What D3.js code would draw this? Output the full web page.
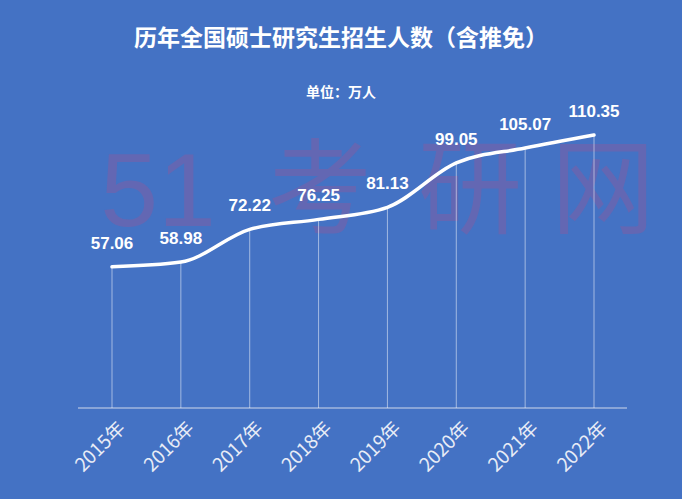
<!DOCTYPE html>
<html><head><meta charset="utf-8">
<script src="https://cdn.jsdelivr.net/npm/d3@7"></script>
<style>body{margin:0;background:#4472c4;}svg{display:block;font-family:"Noto Sans CJK SC","Noto Sans",sans-serif;}</style>
</head><body><svg width="682" height="499"></svg>
<script>
const years = ["2015年","2016年","2017年","2018年","2019年","2020年","2021年","2022年"];
const values = [57.06,58.98,72.22,76.25,81.13,99.05,105.07,110.35];
const watermark = ["51","考","研","网"];
const svg = d3.select("svg");
svg.append("rect").attr("width",682).attr("height",499).attr("fill","#4472c4");
svg.append("text").attr("x",341).attr("y",46).attr("text-anchor","middle").attr("fill","#fff")
  .attr("font-size",23).attr("font-weight","bold").text("历年全国硕士研究生招生人数（含推免）");
svg.append("text").attr("x",341).attr("y",97).attr("text-anchor","middle").attr("fill","#fff")
  .attr("font-size",14).attr("font-weight","bold").text("单位：万人");
const wx = [158,320,470,603];
watermark.forEach((w,i)=>svg.append("text").attr("x",wx[i]).attr("y",226).attr("text-anchor","middle")
  .attr("fill","#8a5aa0").attr("fill-opacity",0.45).attr("font-size",104)
  .attr("font-family","Liberation Sans, Noto Sans CJK SC").text(w));
const x = d3.scalePoint().domain(years).range([112,594]);
const y = d3.scaleLinear().domain([0,110.35]).range([408,135]);
svg.append("line").attr("x1",78).attr("x2",627).attr("y1",408).attr("y2",408).attr("stroke","#d0d8ea").attr("stroke-width",1);
years.forEach((d,i)=>{
  svg.append("line").attr("x1",x(d)).attr("x2",x(d)).attr("y1",y(values[i])).attr("y2",408)
    .attr("stroke","#fff").attr("stroke-opacity",0.5).attr("stroke-width",1);
  svg.append("text").attr("x",x(d)).attr("y",y(values[i])-18).attr("text-anchor","middle")
    .attr("fill","#fff").attr("font-size",17).attr("font-weight","bold").attr("font-family","Liberation Sans, Noto Sans")
    .text(values[i].toFixed(2));
  svg.append("text").attr("transform",`translate(${x(d)+5},${420}) rotate(-45)`).attr("text-anchor","end")
    .attr("dy","0.7em").attr("fill","#e8ecf6").attr("font-size",19).text(d);
});
svg.append("path").datum(values).attr("fill","none").attr("stroke","#fff").attr("stroke-width",3.5)
  .attr("stroke-linecap","round")
  .attr("d",d3.line().x((d,i)=>x(years[i])).y(d=>y(d)).curve(d3.curveMonotoneX));
</script></body></html>
